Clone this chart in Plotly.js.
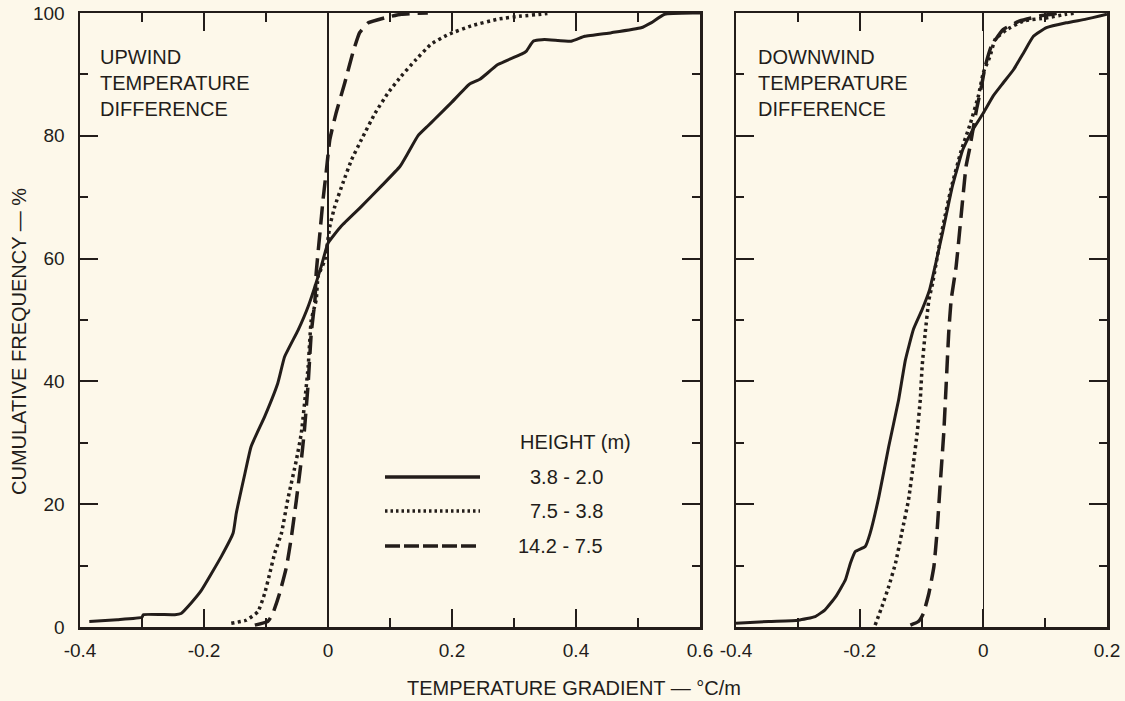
<!DOCTYPE html>
<html>
<head>
<meta charset="utf-8">
<script src="https://cdn.plot.ly/plotly-3.0.1.min.js"></script>
<style>
  html, body { margin: 0; padding: 0; background: #fdf8ea; }
  #chart { width: 1125px; height: 701px; }
</style>
</head>
<body>
<div id="chart"></div>
<script>
// ---------- DATA ----------
// Upwind panel
const upSolidX = [-0.385,-0.340,-0.300,-0.298,-0.247,-0.237,-0.220,-0.204,-0.172,-0.153,-0.148,-0.134,-0.124,-0.102,-0.081,-0.070,-0.048,-0.032,-0.011,0,0.0215,0.054,0.086,0.116,0.129,0.145,0.161,0.172,0.199,0.228,0.245,0.274,0.312,0.320,0.331,0.349,0.392,0.414,0.457,0.505,0.521,0.543,0.591,0.6];
const upSolidY = [0.9,1.2,1.6,2.0,2.0,2.2,4.0,6.0,11.5,15.3,18.5,25,29.4,34.3,39.7,44,48.4,52.2,58.7,62.5,65.3,68.5,71.8,75.0,77.2,80,81.6,82.7,85.4,88.4,89.2,91.6,93.3,93.8,95.4,95.7,95.4,96.2,96.8,97.6,98.4,99.8,100,100];

const upDotX = [-0.156,-0.132,-0.113,-0.102,-0.094,-0.086,-0.075,-0.065,-0.051,-0.043,-0.032,-0.027,-0.019,-0.016,-0.005,0.003,0.011,0.024,0.038,0.054,0.076,0.097,0.118,0.140,0.166,0.194,0.231,0.274,0.312,0.344,0.36];
const upDotY = [0.6,1.1,2.5,5.5,8.7,12,15.3,20.7,27.2,31.6,42.4,50,53.3,57.1,59.8,65.3,68.5,72.3,76.1,79.4,83.7,87,89.7,92.2,94.9,96.5,97.9,99,99.5,99.8,100];

const upDashX = [-0.118,-0.097,-0.089,-0.078,-0.067,-0.059,-0.051,-0.043,-0.038,-0.032,-0.027,-0.021,-0.019,-0.013,-0.008,-0.003,0.003,0.013,0.027,0.040,0.051,0.065,0.091,0.118,0.161];
const upDashY = [0.3,0.9,2.2,5.5,9.8,14.7,20.7,27.2,32.1,39.7,47.9,53.3,57.7,64.2,69.6,74,79.4,83.7,88.6,93.5,96.8,98.4,99.2,99.8,100];

// Downwind panel
const dnSolidX = [-0.4,-0.347,-0.299,-0.272,-0.256,-0.239,-0.223,-0.215,-0.207,-0.191,-0.183,-0.169,-0.153,-0.137,-0.126,-0.113,-0.099,-0.087,-0.066,-0.050,-0.033,-0.017,0,0.016,0.032,0.049,0.065,0.081,0.102,0.134,0.166,0.188,0.2];
const dnSolidY = [0.6,0.9,1.1,1.7,2.8,4.9,7.7,10.4,12.3,13.1,15.3,21.2,29.4,37,43.5,48.5,51.7,54.9,64.2,71.8,77.8,81,83.7,86.5,88.6,90.8,93.5,96.2,97.6,98.4,99,99.5,99.8];

const dnDotX = [-0.175,-0.164,-0.153,-0.142,-0.132,-0.121,-0.113,-0.107,-0.102,-0.099,-0.094,-0.088,-0.082,-0.068,-0.052,-0.036,-0.021,-0.008,0,0.011,0.019,0.038,0.065,0.102,0.134,0.15];
const dnDotY = [0.3,3.3,6.6,10.4,15.3,20.7,26.7,31.6,37,42.4,47.9,53.3,56,64,71.5,77.5,82,86.5,90.3,93,95.7,97.3,98.7,99.2,99.8,100];

const dnDashX = [-0.118,-0.105,-0.097,-0.088,-0.080,-0.075,-0.070,-0.064,-0.060,-0.056,-0.052,-0.044,-0.036,-0.028,-0.022,-0.011,-0.003,0.003,0.013,0.032,0.059,0.091,0.11,0.12];
const dnDashY = [0.3,0.9,2.2,5.5,9.8,15.3,22.9,31.6,39.7,47.9,53.3,58.7,66.9,75,78,84.3,88.1,91.3,94.6,97.3,98.7,99.5,99.8,100];

// Tick labels
const upTickVals = [-0.4,-0.2,0,0.2,0.4,0.6];
const upTickText = ["-0.4","-0.2","0","0.2","0.4","0.6"];
const dnTickVals = [-0.4,-0.2,0,0.2];
const dnTickText = ["-0.4","-0.2","0","0.2"];
const yTickVals = [0,20,40,60,80,100];
const yTickText = ["0","20","40","60","80","100"];

const seriesNames = ["3.8 - 2.0","7.5 - 3.8","14.2 - 7.5"];
const legendTitle = "HEIGHT (m)";
const panelLabels = ["UPWIND<br>TEMPERATURE<br>DIFFERENCE","DOWNWIND<br>TEMPERATURE<br>DIFFERENCE"];
const xTitle = "TEMPERATURE GRADIENT — °C/m";
const yTitle = "CUMULATIVE FREQUENCY — %";

// ---------- STYLE ----------
const INK = "#231d1a";
const BG = "#fdf8ea";
const FONT = "Liberation Sans, Arial, sans-serif";
const W = 1125, H = 701;
const M = {l: 80, r: 18, t: 13, b: 74};
const PW = W - M.l - M.r, PH = H - M.t - M.b;
const px = v => (v - M.l) / PW;      // pixel -> paper x
const py = v => (H - M.b - v) / PH;  // pixel -> paper y

const styles = [
  {color: INK, width: 3, dash: "solid"},
  {color: INK, width: 3.5, dash: "3px,3.5px"},
  {color: INK, width: 3.5, dash: "18px,8px"}
];

function tr(x, y, i, xa, ya) {
  return {
    type: "scatter", mode: "lines", x: x, y: y, xaxis: xa, yaxis: ya,
    line: {color: styles[i].color, width: styles[i].width, dash: styles[i].dash, shape: "spline", smoothing: 0.4},
    showlegend: false, hoverinfo: "skip"
  };
}

const data = [
  tr(upSolidX, upSolidY, 0, "x", "y"),
  tr(upDotX, upDotY, 1, "x", "y"),
  tr(upDashX, upDashY, 2, "x", "y"),
  tr(dnSolidX, dnSolidY, 0, "x2", "y2"),
  tr(dnDotX, dnDotY, 1, "x2", "y2"),
  tr(dnDashX, dnDashY, 2, "x2", "y2")
];

const tickFont = {family: FONT, size: 19, color: INK};

function xAxis(domain, range, vals, text, anchor) {
  return {
    domain: domain, range: range, anchor: anchor,
    tickmode: "array", tickvals: vals, ticktext: text,
    ticks: "inside", ticklen: 18, tickwidth: 2, tickcolor: INK,
    minor: {tickmode: "linear", tick0: 0, dtick: 0.1, ticks: "inside", ticklen: 9, tickwidth: 2, tickcolor: INK, showgrid: false},
    showline: true, linewidth: 2.5, linecolor: INK, mirror: "ticks",
    zeroline: true, zerolinecolor: INK, zerolinewidth: 1.5,
    showgrid: false, tickfont: tickFont, ticklabelstandoff: 5, fixedrange: true
  };
}
function yAxis(anchor, showLabels) {
  return {
    domain: [0, 1], range: [0, 100], anchor: anchor,
    tickmode: "array", tickvals: yTickVals, ticktext: yTickText, showticklabels: showLabels,
    ticks: "inside", ticklen: 18, tickwidth: 2, tickcolor: INK,
    minor: {tickmode: "linear", tick0: 0, dtick: 10, ticks: "inside", ticklen: 8, tickwidth: 2, tickcolor: INK, showgrid: false},
    showline: true, linewidth: 2.5, linecolor: INK, mirror: "ticks",
    zeroline: false, showgrid: false, tickfont: tickFont, ticklabelstandoff: 9, fixedrange: true
  };
}

const split = (736 - M.l) / PW;
const annFont = {family: FONT, size: 20, color: INK};

const annotations = [
  {text: panelLabels[0], xref: "paper", yref: "paper", x: px(98), y: py(44), xanchor: "left", yanchor: "top", align: "left", showarrow: false, font: annFont},
  {text: panelLabels[1], xref: "paper", yref: "paper", x: px(756), y: py(44), xanchor: "left", yanchor: "top", align: "left", showarrow: false, font: annFont},
  {text: legendTitle, xref: "paper", yref: "paper", x: px(633), y: py(442), xanchor: "right", yanchor: "middle", showarrow: false, font: annFont},
  {text: xTitle, xref: "paper", yref: "paper", x: px(574), y: py(688), xanchor: "center", yanchor: "middle", showarrow: false, font: annFont},
  {text: yTitle, xref: "paper", yref: "paper", x: px(19), y: py(342), xanchor: "center", yanchor: "middle", textangle: -90, showarrow: false, font: annFont}
];
const legendY = [477, 511, 546];
const shapes = [];
seriesNames.forEach((name, i) => {
  annotations.push({text: name, xref: "paper", yref: "paper", x: px(605), y: py(legendY[i]), xanchor: "right", yanchor: "middle", showarrow: false, font: annFont});
  shapes.push({type: "line", xref: "paper", yref: "paper", x0: px(385), x1: px(480), y0: py(legendY[i]), y1: py(legendY[i]),
    line: {color: styles[i].color, width: i === 0 ? 3.5 : 3.5, dash: i === 1 ? "2.5px,3px" : (i === 2 ? "15px,4px" : "solid")}});
});

const layout = {
  width: W, height: H,
  margin: M,
  paper_bgcolor: BG, plot_bgcolor: BG,
  showlegend: false,
  font: {family: FONT, color: INK},
  xaxis: xAxis([0, split - (736 - 700) / PW], [-0.4, 0.6], upTickVals, upTickText, "y"),
  yaxis: yAxis("x", true),
  xaxis2: xAxis([split, 1], [-0.4, 0.2], dnTickVals, dnTickText, "y2"),
  yaxis2: yAxis("x2", false),
  annotations: annotations,
  shapes: shapes
};

Plotly.newPlot("chart", data, layout, {displayModeBar: false, staticPlot: true});
</script>
</body>
</html>
